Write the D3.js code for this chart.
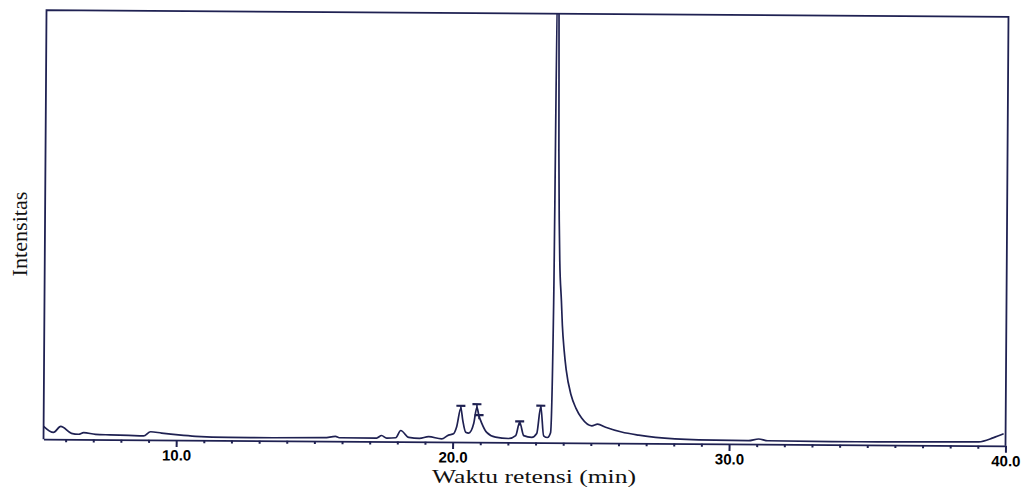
<!DOCTYPE html>
<html>
<head>
<meta charset="utf-8">
<script src="https://cdn.jsdelivr.net/npm/d3@7/dist/d3.min.js"></script>
<style>
  html, body { margin: 0; padding: 0; background: #fff; }
  svg { display: block; }
</style>
</head>
<body>
<svg id="chart" width="1025" height="492"></svg>
<script>
// Chromatogram: retention time (min) vs. intensity (arbitrary units, 100 = frame top)
const timeMin = [
  5.20, 5.56, 5.82, 6.21, 6.47, 6.65, 7.08, 7.60, 8.28, 8.82, 9.07, 9.47,
  10.08, 10.70, 11.89, 13.50, 15.36, 15.76, 15.90, 17.25, 17.43, 17.61,
  17.94, 18.12, 18.41, 18.80, 19.13, 19.60, 19.85, 20.03, 20.14, 20.29,
  20.36, 20.47, 20.58, 20.76, 20.87, 20.94, 21.05, 21.23, 21.55, 22.02,
  22.28, 22.42, 22.57, 22.86, 23.04, 23.18, 23.29, 23.43, 23.54, 23.62,
  23.68, 23.73, 23.77, 23.80, 23.83, 23.90, 23.94, 24.01, 24.09, 24.27,
  24.45, 24.66, 25.03, 25.24, 25.53, 26.11, 26.73, 27.34, 28.90, 30.70,
  31.07, 31.40, 33.71, 36.75, 39.03, 39.57, 39.93
];
const intensity = [
  3.0, 1.6, 3.0, 1.4, 1.2, 1.6, 1.2, 1.1, 1.0, 0.9, 1.9, 1.6,
  1.2, 0.9, 0.7, 0.7, 0.8, 1.1, 0.8, 0.8, 1.4, 0.8,
  0.9, 2.6, 1.0, 0.8, 1.2, 0.7, 1.6, 1.9, 3.5, 7.9,
  5.1, 2.3, 2.1, 4.4, 8.1, 6.3, 4.4, 2.3, 1.2, 0.9,
  1.6, 4.7, 1.6, 1.2, 2.1, 8.4, 1.6, 1.2, 2.3, 32.6,
  110, 110, 68, 52, 42.5, 33, 27.4, 21.6, 17, 11.2,
  8.1, 5.8, 4.0, 4.4, 3.7, 2.6, 1.9, 1.4, 0.9, 0.8,
  1.2, 0.8, 0.7, 0.8, 0.9, 1.9, 2.8
];

// integration markers drawn above the small peaks
const peakMarkTime  = [20.29, 20.87, 20.95, 22.42, 23.18];
const peakMarkLevel = [8.45, 8.85, 6.3, 4.9, 8.6];

const majorTicks = [10, 20, 30, 40];
const majorLabels = ['10.0', '20.0', '30.0', '40.0'];
const minorTicks = [6, 7, 8, 9, 11, 12, 13, 14, 15, 16, 17, 18, 19,
                    21, 22, 23, 24, 25, 26, 27, 28, 29,
                    31, 32, 33, 34, 35, 36, 37, 38, 39];

const xTitle = 'Waktu retensi (min)';
const yTitle = 'Intensitas';

// ---------------------------------------------------------------------------
// Layout
// ---------------------------------------------------------------------------

const P = { left: 45, right: 1007, top: 13.5, bottom: 442.5 };
const INK = '#1f2152';
const TILT = 0.4; // the scanned original is slightly rotated

const svg = d3.select('#chart');

const x = d3.scaleLinear().domain([5.2, 40]).range([P.left, P.right]);
const y = d3.scaleLinear().domain([0, 100]).range([P.bottom, P.top]);

const cx = (P.left + P.right) / 2, cy = (P.top + P.bottom) / 2;
const g = svg.append('g').attr('transform', `rotate(${TILT},${cx},${cy})`);

svg.append('defs').append('clipPath').attr('id', 'plot-clip')
  .append('rect')
  .attr('x', P.left).attr('y', P.top)
  .attr('width', P.right - P.left).attr('height', P.bottom - P.top);

// Trace
const line = d3.line()
  .x((d, i) => x(timeMin[i]))
  .y(d => y(d))
  .curve(d3.curveMonotoneX);

g.append('path')
  .attr('clip-path', 'url(#plot-clip)')
  .attr('d', line(intensity))
  .attr('fill', 'none')
  .attr('stroke', INK)
  .attr('stroke-width', 1.7)
  .attr('stroke-linejoin', 'round');

// Peak markers ("T" shapes)
peakMarkTime.forEach((t, i) => {
  const px = x(t), py = y(peakMarkLevel[i]);
  g.append('line')
    .attr('x1', px - 4.5).attr('x2', px + 4.5)
    .attr('y1', py).attr('y2', py)
    .attr('stroke', INK).attr('stroke-width', 2.2);
  g.append('line')
    .attr('x1', px).attr('x2', px)
    .attr('y1', py).attr('y2', py + 4)
    .attr('stroke', INK).attr('stroke-width', 1.6);
});

// Frame: top, left and right sides
const frame = d3.path();
frame.moveTo(P.left, P.bottom);
frame.lineTo(P.left, P.top);
frame.lineTo(P.right, P.top);
frame.lineTo(P.right, P.bottom);
g.append('path')
  .attr('d', frame.toString())
  .attr('fill', 'none')
  .attr('stroke', INK)
  .attr('stroke-width', 1.8);

// Bottom axis: minor ticks
g.append('g')
  .attr('transform', `translate(0,${P.bottom})`)
  .call(d3.axisBottom(x).tickValues(minorTicks).tickSize(3).tickSizeOuter(0).tickFormat(''))
  .call(a => a.select('.domain').attr('stroke', INK).attr('stroke-width', 1.8))
  .call(a => a.selectAll('.tick line').attr('stroke', INK).attr('stroke-width', 2));

// Bottom axis: major ticks with labels
g.append('g')
  .attr('transform', `translate(0,${P.bottom})`)
  .call(d3.axisBottom(x).tickValues(majorTicks).tickSize(7).tickSizeOuter(0)
    .tickFormat((d, i) => majorLabels[i]))
  .call(a => a.select('.domain').remove())
  .call(a => a.selectAll('.tick line').attr('stroke', INK).attr('stroke-width', 2))
  .call(a => a.selectAll('.tick text')
    .attr('y', 20.5).attr('dy', null)
    .attr('fill', '#000')
    .style('font-family', '"Liberation Sans", Arial, sans-serif')
    .style('font-weight', 'bold')
    .style('font-size', '15px'));

// Axis titles
svg.append('text')
  .attr('x', 534).attr('y', 483)
  .attr('text-anchor', 'middle')
  .attr('textLength', 204)
  .attr('lengthAdjust', 'spacingAndGlyphs')
  .style('font-family', '"Liberation Serif", "Times New Roman", serif')
  .style('font-size', '19.5px')
  .attr('fill', '#111')
  .text(xTitle);

svg.append('text')
  .attr('transform', 'translate(27,234) rotate(-90)')
  .attr('text-anchor', 'middle')
  .attr('textLength', 85)
  .attr('lengthAdjust', 'spacingAndGlyphs')
  .style('font-family', '"Liberation Serif", "Times New Roman", serif')
  .style('font-size', '20px')
  .attr('fill', '#111')
  .text(yTitle);
</script>
</body>
</html>
